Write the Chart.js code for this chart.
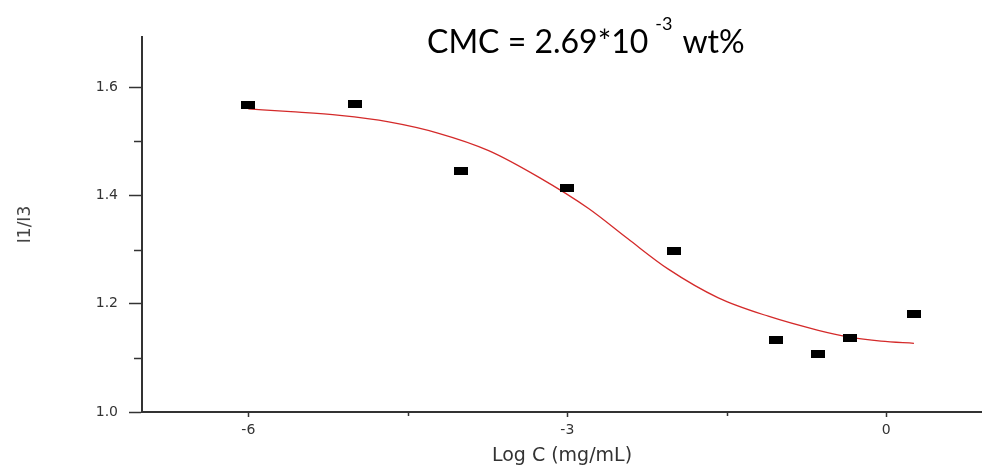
<!DOCTYPE html>
<html>
<head>
<meta charset="utf-8">
<script src="https://cdn.jsdelivr.net/npm/chart.js@4"></script>
<style>
  html, body { margin: 0; padding: 0; background: #fff; }
  #c { display: block; }
</style>
</head>
<body>
<canvas id="c" width="982" height="467"></canvas>
<script>
// Measured pyrene I1/I3 ratio vs. log concentration
const logC  = [-6.0, -5.0, -4.0, -3.0, -2.0, -1.04, -0.64, -0.34, 0.26];
const ratio = [1.567, 1.570, 1.445, 1.414, 1.298, 1.133, 1.107, 1.137, 1.181];

// Sigmoidal fit curve, sampled along its length
const fitLogC  = [-6.0, -5.6, -5.14, -4.68, -4.21, -3.74, -3.27, -2.80, -2.43, -2.05, -1.58, -1.11, -0.64, -0.36, -0.05, 0.26];
const fitRatio = [1.560, 1.555, 1.548, 1.536, 1.515, 1.483, 1.434, 1.376, 1.320, 1.264, 1.211, 1.177, 1.151, 1.139, 1.131, 1.127];

// Axis ticks
const xMajorTicks = [-6, -3, 0];
const xMinorTicks = [-4.5, -1.5];
const yMajorTicks = [1.0, 1.2, 1.4, 1.6];
const yMinorTicks = [1.1, 1.3, 1.5];

// Annotation text
const cmcText = 'CMC = 2.69*10';
const cmcExp = '-3';
const cmcUnit = 'wt%';

const axisColor = '#333';
const labelFont = 'DejaVu Sans';

// Small black rectangle used as the data marker
const marker = document.createElement('canvas');
marker.width = 14; marker.height = 8;
(function () {
  const m = marker.getContext('2d');
  m.fillStyle = '#000';
  m.fillRect(0, 0, 14, 8);
})();

const minorTicks = {
  id: 'minorTicks',
  afterDraw(chart) {
    const ctx = chart.ctx;
    const {x, y} = chart.scales;
    const area = chart.chartArea;
    ctx.save();
    ctx.strokeStyle = axisColor;
    ctx.lineWidth = 1.5;
    xMinorTicks.forEach(v => {
      const px = Math.round(x.getPixelForValue(v)) + 0.5;
      ctx.beginPath();
      ctx.moveTo(px, area.bottom);
      ctx.lineTo(px, area.bottom + 4);
      ctx.stroke();
    });
    yMinorTicks.forEach(v => {
      const py = Math.round(y.getPixelForValue(v)) + 0.5;
      ctx.beginPath();
      ctx.moveTo(area.left - 8, py);
      ctx.lineTo(area.left, py);
      ctx.stroke();
    });
    ctx.restore();
  }
};

const cmcLabel = {
  id: 'cmcLabel',
  afterDraw(chart) {
    const ctx = chart.ctx;
    ctx.save();
    ctx.fillStyle = '#000';
    ctx.textBaseline = 'alphabetic';
    ctx.textAlign = 'left';
    let xPos = 427;
    ctx.font = '32px Lato';
    ctx.fillText(cmcText, xPos, 53);
    xPos += ctx.measureText(cmcText).width + 7;
    ctx.font = '18px Lato';
    ctx.fillText(cmcExp, xPos, 30);
    xPos += ctx.measureText(cmcExp).width + 10;
    ctx.font = '32px Lato';
    ctx.fillText(cmcUnit, xPos, 53);
    ctx.restore();
  }
};

new Chart(document.getElementById('c'), {
  type: 'scatter',
  data: {
    datasets: [
      {
        label: 'Fit',
        type: 'line',
        data: fitLogC.map((v, i) => ({x: v, y: fitRatio[i]})),
        borderColor: '#d42a2a',
        borderWidth: 1.3,
        pointRadius: 0,
        fill: false,
        cubicInterpolationMode: 'monotone',
        order: 2
      },
      {
        label: 'I1/I3',
        data: logC.map((v, i) => ({x: v, y: ratio[i]})),
        pointStyle: marker,
        pointRadius: 7,
        backgroundColor: '#000',
        borderColor: '#000',
        order: 1
      }
    ]
  },
  options: {
    responsive: false,
    animation: false,
    layout: { autoPadding: false, padding: { top: 37, left: 0, right: 0, bottom: 0 } },
    plugins: {
      legend: { display: false },
      tooltip: { enabled: false },
      title: { display: false }
    },
    scales: {
      x: {
        type: 'linear',
        min: -7,
        max: 0.9,
        afterBuildTicks: s => { s.ticks = xMajorTicks.map(v => ({value: v})); },
        afterFit: s => { s.height = 55; s.paddingLeft = 0; s.paddingRight = 0; },
        grid: { drawOnChartArea: false, drawTicks: true, tickLength: 5, tickColor: axisColor, tickWidth: 1.5 },
        border: { display: true, color: axisColor, width: 2 },
        ticks: {
          color: axisColor,
          padding: 5,
          font: { family: labelFont, size: 14 },
          callback: v => String(v)
        },
        title: {
          display: true,
          text: 'Log C (mg/mL)',
          color: axisColor,
          font: { family: labelFont, size: 19 },
          padding: { top: 0, bottom: 0 }
        }
      },
      y: {
        type: 'linear',
        min: 1.0,
        max: 1.693,
        afterBuildTicks: s => { s.ticks = yMajorTicks.map(v => ({value: v})); },
        afterFit: s => { s.width = 142; s.paddingTop = 0; s.paddingBottom = 0; },
        grid: { drawOnChartArea: false, drawTicks: true, tickLength: 13, tickColor: axisColor, tickWidth: 1.5 },
        border: { display: true, color: axisColor, width: 2 },
        ticks: {
          color: axisColor,
          padding: 11,
          font: { family: labelFont, size: 14 },
          callback: v => v.toFixed(1)
        },
        title: {
          display: true,
          text: 'I1/I3',
          color: '#444',
          font: { family: labelFont, size: 17 },
          padding: { top: 15, bottom: 0 }
        }
      }
    }
  },
  plugins: [minorTicks, cmcLabel]
});
</script>
</body>
</html>
